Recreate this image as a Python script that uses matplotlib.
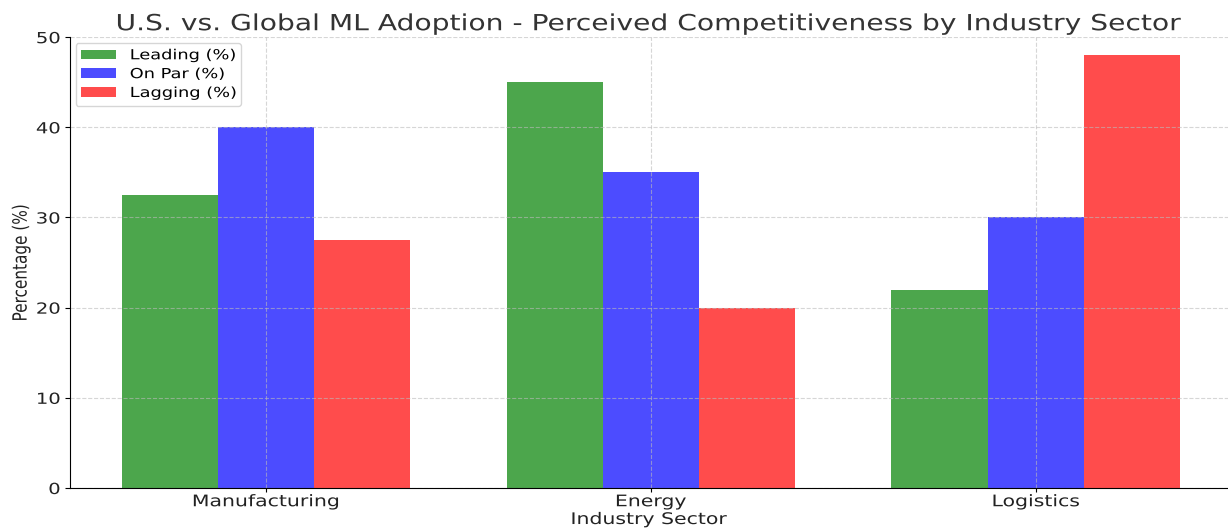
import matplotlib.pyplot as plt
import matplotlib.patheffects as pe
from matplotlib.transforms import Affine2D
import numpy as np

sectors = ["Manufacturing", "Energy", "Logistics"]
leading = [32.5, 45, 22]
on_par = [40, 35, 30]
lagging = [27.5, 20, 48]
series_names = ["Leading (%)", "On Par (%)", "Lagging (%)"]


class StretchX(pe.AbstractPathEffect):
    """Widen text glyphs horizontally around an anchor (left/center/right)."""

    def __init__(self, sx, anchor='center'):
        super().__init__()
        self.sx = sx
        self.anchor = anchor

    def draw_path(self, renderer, gc, tpath, affine, rgbFace=None):
        if len(tpath.vertices) == 0:
            return
        xs = affine.transform(tpath.vertices)[:, 0]
        x0, x1 = xs.min(), xs.max()
        cx = {'left': x0, 'center': (x0 + x1) / 2, 'right': x1}[self.anchor]
        t = affine + Affine2D().translate(-cx, 0).scale(self.sx, 1).translate(cx, 0)
        renderer.draw_path(gc, tpath, t, rgbFace)


def do_plot():
    sx = 1.28
    fig = plt.figure(figsize=(12.28, 5.31), dpi=100)
    ax = fig.add_axes([0.057, 0.081, 0.943, 0.849])

    x = np.arange(len(sectors))
    width = 0.25
    pad = '     '  # room in the legend box for the widened labels
    ax.bar(x - width, leading, width, color='green', alpha=0.7, label=series_names[0] + pad)
    ax.bar(x, on_par, width, color='blue', alpha=0.7, label=series_names[1] + pad)
    ax.bar(x + width, lagging, width, color='red', alpha=0.7, label=series_names[2] + pad)

    ax.set_xticks(x)
    ax.set_xticklabels(sectors, fontsize=11.5, color='#222222')
    ax.tick_params(axis='x', length=3, pad=1.5)
    ax.tick_params(axis='y', labelsize=11, labelcolor='#222222')
    ax.set_xlim(-0.51, 2.50)
    ax.set_ylim(0, 50)
    ax.set_xlabel("Industry Sector", fontsize=11.5, labelpad=2, color='#222222')
    ax.set_ylabel("Percentage (%)", fontsize=11, color='#222222', labelpad=9)
    ax.set_title("U.S. vs. Global ML Adoption - Perceived Competitiveness by Industry Sector",
                 fontsize=16, color='#333333', pad=5)
    ax.grid(linestyle='--', alpha=0.6, color='#bbbbbb')
    ax.spines['top'].set_visible(False)
    ax.spines['right'].set_visible(False)
    leg = ax.legend(loc='upper left', fontsize=10, handlelength=2.5, handletextpad=1.0,
                    labelspacing=0.35, borderaxespad=0.4)

    for t in ax.get_xticklabels():
        t.set_path_effects([StretchX(sx, 'center')])
    for t in ax.get_yticklabels():
        t.set_path_effects([StretchX(sx, 'right')])
    for t in leg.get_texts():
        t.set_path_effects([StretchX(sx, 'left')])
    ax.title.set_path_effects([StretchX(sx * 0.99, 'center')])
    ax.xaxis.label.set_path_effects([StretchX(sx, 'center')])
    ax.yaxis.label.set_path_effects([StretchX(sx, 'center')])

    fig.savefig('out.png', dpi=100)


if __name__ == '__main__':
    do_plot()
